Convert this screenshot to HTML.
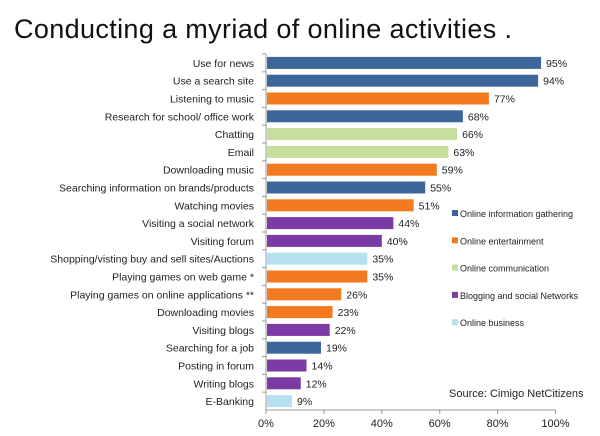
<!DOCTYPE html>
<html><head><meta charset="utf-8"><style>
body{margin:0;background:#fff;width:600px;height:431px;overflow:hidden;font-family:"Liberation Sans",sans-serif}
svg text{font-family:"Liberation Sans",sans-serif}
</style></head><body>
<svg id="c" width="600" height="431">
<text x="14" y="38" font-size="27" textLength="498" fill="#111">Conducting a myriad of online activities .</text>
</svg>
<script>
const categories=["Use for news","Use a search site","Listening to music","Research for school/ office work","Chatting","Email","Downloading music","Searching information on brands/products","Watching movies","Visiting a social network","Visiting forum","Shopping/visting buy and sell sites/Auctions","Playing games on web game *","Playing games on online applications **","Downloading movies","Visiting blogs","Searching for a job","Posting in forum","Writing blogs","E-Banking"];
const values=[95,94,77,68,66,63,59,55,51,44,40,35,35,26,23,22,19,14,12,9];
const groups=[0,0,1,0,2,2,1,0,1,3,3,4,1,1,1,3,0,3,3,4];
const groupNames=["Online information gathering","Online entertainment","Online communication","Blogging and social Networks","Online business"];
const ticks=[0,20,40,60,80,100];
const colors=["#3d679a","#f47a20","#c5de9c","#7b3aa4","#b6e0ef"];
const svg=document.getElementById('c'),NS="http://www.w3.org/2000/svg";
const x0=266,x1=555.5,yTop=54,pitch=17.8,bh=12,axisY=410;
const X=v=>x0+(x1-x0)*v/100, Y=i=>yTop+pitch*i+pitch/2;
function mk(t,a,txt){const e=document.createElementNS(NS,t);for(const k in a)e.setAttribute(k,a[k]);if(txt!=null)e.textContent=txt;svg.appendChild(e);return e;}
let e=mk('line',{x1:x0,y1:yTop,x2:x0,y2:axisY,stroke:'#999'});


e=mk('line',{x1:x0,y1:axisY,x2:x1,y2:axisY,stroke:'#999'});


ticks.forEach(t=>{
 mk('line',{x1:X(t),y1:axisY,x2:X(t),y2:axisY+4,stroke:'#999'});
 const l=mk('text',{x:X(t),y:axisY+17,'font-size':11,'text-anchor':'middle',fill:'#222'},t+'%');
 
 
});
categories.forEach((c,i)=>{
 const y=Y(i);
 mk('line',{x1:x0-4,y1:yTop+pitch*i,x2:x0,y2:yTop+pitch*i,stroke:'#999'});
 const l=mk('text',{x:x0-12,y:y+4,'font-size':10.5,'text-anchor':'end',fill:'#222'},c);
 
 
 const r=mk('rect',{x:x0+1,y:y-bh/2,width:X(values[i])-x0-1,height:bh,fill:colors[groups[i]]});
 
 
 const v=mk('text',{x:X(values[i])+5,y:y+4,'font-size':10.5,fill:'#222'},values[i]+'%');
 
 
});
groupNames.forEach((g,i)=>{
 const y=214+27.3*i;
 const s=mk('rect',{x:452,y:y-4,width:6,height:6,fill:colors[i]});
 
 
 const t=mk('text',{x:460,y:y+3,'font-size':9,fill:'#222'},g);
 
 
});
e=mk('text',{x:449,y:397,'font-size':11,fill:'#222'},'Source: Cimigo NetCitizens');


</script>
</body></html>
